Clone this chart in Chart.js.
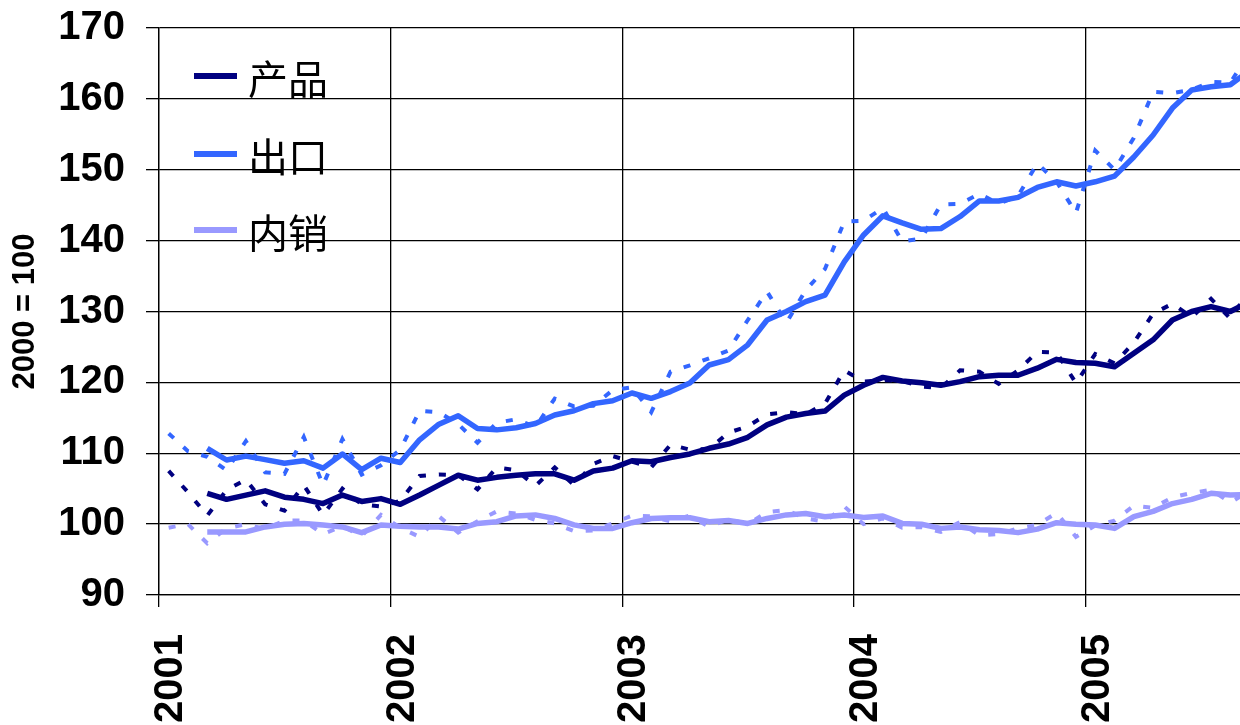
<!DOCTYPE html>
<html><head><meta charset="utf-8">
<script src="https://cdn.jsdelivr.net/npm/chart.js@4/dist/chart.umd.min.js"></script>
<style>html,body{margin:0;padding:0;background:#fff;}#wrap{width:1240px;height:725px;}</style>
</head><body><div id="wrap"><canvas id="c" width="1240" height="725"></canvas></div>
<script>
// ---- data (monthly, Jan 2001 = month 0) ----
const yearLabels = ['2001','2002','2003','2004','2005'];
const yearTickMonths = [0,12,24,36,48];
const yTickValues = [90,100,110,120,130,140,150,160,170];
const seriesNames = ['产品','出口','内销'];

const productAvg = [null,null,104.35,103.5,104.1,104.7,103.8,103.5,102.9,104.1,103.2,103.6,102.8,104.1,105.5,106.9,106.2,106.6,106.9,107.1,107.1,106.2,107.5,107.9,108.95,108.8,109.4,109.9,110.7,111.3,112.25,114.0,115.1,115.6,115.96,118.2,119.6,120.7,120.2,119.96,119.6,120.1,120.8,121.0,121.0,122.0,123.25,122.8,122.7,122.2,124.1,126.0,128.8,130.0,130.7,130.0,131.4];
const exportAvg = [null,null,110.7,109.05,109.6,109.1,108.6,108.95,107.9,109.9,107.7,109.3,108.7,111.9,114.1,115.3,113.5,113.3,113.6,114.2,115.4,116.0,117.0,117.4,118.5,117.75,118.7,119.9,122.45,123.2,125.3,128.8,130.0,131.4,132.3,137.0,140.8,143.5,142.5,141.6,141.7,143.4,145.6,145.6,146.1,147.5,148.3,147.7,148.3,149.1,151.8,154.9,158.7,161.25,161.7,162.0,164.0];
const domesticAvg = [null,null,98.9,98.9,98.9,99.6,99.98,100.1,99.87,99.6,98.8,99.87,99.7,99.6,99.6,99.3,100.1,100.35,101.15,101.3,100.8,99.9,99.4,99.4,100.2,100.8,100.9,100.9,100.35,100.5,100.1,100.8,101.3,101.5,101.05,101.3,100.95,101.15,100.1,99.98,99.4,99.6,99.2,99.1,98.8,99.3,100.2,99.98,99.87,99.4,101.05,101.8,102.9,103.5,104.35,104.1,104.2];

const productRaw = [107.5,104.5,101.2,104.8,106.3,102.8,101.9,105.5,101.3,105.0,102.8,102.5,103.3,106.8,107.0,106.9,104.9,108.0,107.6,105.4,108.0,105.5,108.5,109.6,108.8,108.0,111.2,110.5,110.6,112.9,113.8,115.5,115.8,115.5,117.0,121.7,120.1,120.3,120.2,119.4,119.2,121.7,121.5,119.8,121.7,124.3,124.2,119.9,124.0,122.7,125.6,129.7,131.1,129.2,131.8,129.0,133.0];
const exportRaw = [112.8,110.3,109.5,107.6,111.7,107.3,107.1,112.3,105.5,112.0,107.0,108.3,110.5,116.0,115.8,114.1,111.5,114.3,114.8,113.7,117.7,116.6,116.7,118.9,119.3,115.8,121.5,122.4,123.4,124.5,128.8,132.8,128.4,133.0,136.0,142.7,142.8,144.6,139.9,140.3,145.1,145.2,146.6,145.2,146.3,150.9,148.3,143.9,152.7,150.0,154.5,161.0,160.8,161.3,162.4,162.3,166.5];
const domesticRaw = [99.5,100.0,97.3,99.4,100.0,99.3,100.5,100.5,98.6,99.7,98.3,101.3,99.5,98.2,101.1,98.8,100.4,101.8,101.5,100.6,100.1,99.0,99.1,100.1,101.2,101.1,100.4,101.2,99.6,100.7,100.0,101.7,102.0,100.8,100.35,102.5,100.0,100.8,99.5,99.6,98.9,100.3,98.4,98.6,99.4,99.9,101.6,98.2,99.8,100.5,102.6,102.3,103.8,104.4,104.85,103.05,104.7];

const colors = ['#000080','#3366FF','#9999FF'];

function toPoints(arr){ return arr.map((v,i)=>({x:i+0.5, y:v})); }

const avgSets = [productAvg, exportAvg, domesticAvg];
const rawSets = [productRaw, exportRaw, domesticRaw];
const datasets = [];
avgSets.forEach((arr,k)=>datasets.push({
  label: seriesNames[k], data: toPoints(arr), borderColor: colors[k],
  borderWidth: 5.5, pointRadius: 0, tension: 0, borderJoinStyle:'round', spanGaps:false
}));
rawSets.forEach((arr,k)=>datasets.push({
  label: seriesNames[k] + ' ', data: toPoints(arr), borderColor: colors[k],
  borderWidth: 4, borderDash:[7,13], pointRadius: 0, tension: 0, borderCapStyle:'butt'
}));

const insideLegend = {
  id: 'insideLegend',
  beforeDraw(chart){
    const ctx = chart.ctx, a = chart.chartArea;
    ctx.save();
    ctx.fillStyle = '#fff';
    ctx.fillRect(0,0,chart.width,chart.height);
    const rows = [48, 126, 202];
    for (let k=0;k<3;k++){
      const y = a.top + rows[k];
      ctx.strokeStyle = colors[k];
      ctx.lineWidth = 6;
      ctx.beginPath(); ctx.moveTo(a.left+35, y); ctx.lineTo(a.left+78, y); ctx.stroke();
      ctx.fillStyle = '#000';
      ctx.font = '40px "Noto Sans CJK SC", sans-serif';
      ctx.textBaseline = 'middle'; ctx.textAlign = 'left';
      ctx.fillText(seriesNames[k], a.left+89, y+3);
    }
    ctx.restore();
  }
};

const fam = '"Liberation Sans", Arial, sans-serif';

new Chart(document.getElementById('c'), {
  type: 'line',
  data: { datasets },
  plugins: [insideLegend],
  options: {
    responsive: false, animation: false, devicePixelRatio: 1,
    layout: { padding: {top:28, right:0, bottom:0, left:0} },
    plugins: { legend:{display:false}, tooltip:{enabled:false} },
    scales: {
      x: {
        type: 'linear', min: 0, max: 56,
        afterBuildTicks: s => { s.ticks = yearTickMonths.map(v=>({value:v})); },
        afterFit: s => { s.height = 130; },
        ticks: { autoSkip:false, minRotation:90, maxRotation:90, padding:27, labelOffset:12, color:'#000',
          font: {family:fam, size:40, weight:'bold'},
          callback: (v,i) => yearLabels[i] },
        grid: { color:'#000', lineWidth:1.3, tickLength:12 },
        border: { color:'#000', width:1.3 }
      },
      y: {
        min: 90, max: 170,
        afterBuildTicks: s => { s.ticks = yTickValues.map(v=>({value:v})); },
        afterFit: s => { s.width = 159; },
        ticks: { padding:21, color:'#000', font: {family:fam, size:40, weight:'bold', lineHeight:0.3} },
        grid: { color:'#000', lineWidth:1.3, tickLength:13 },
        border: { color:'#000', width:1.3 },
        title: { display:true, text:'2000 = 100', color:'#000',
          font:{family:fam, size:31, weight:'bold'},
          padding:{top:7,bottom:0} }
      }
    }
  }
});
</script></body></html>
